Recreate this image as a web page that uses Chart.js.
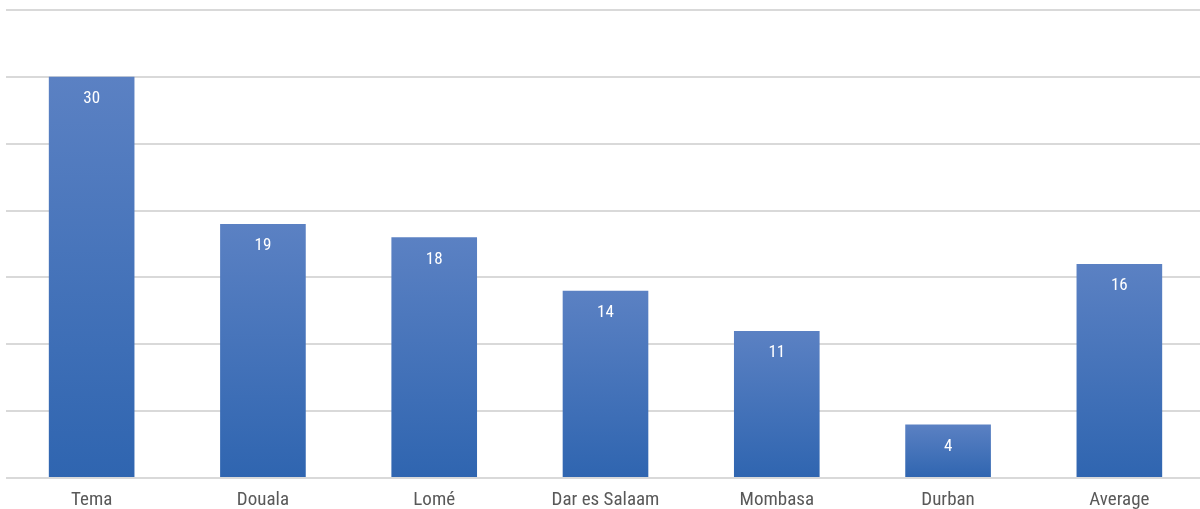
<!DOCTYPE html>
<html>
<head>
<meta charset="utf-8">
<script src="https://cdn.jsdelivr.net/npm/chart.js@4"></script>
<style>
  html, body { margin: 0; padding: 0; background: #fff; overflow: hidden; }
  #wrap { position: absolute; left: 0; top: 0; width: 1206px; height: 509px; }
</style>
</head>
<body>
<div id="wrap"><canvas id="c"></canvas></div>
<script>
const categories = ["Tema", "Douala", "Lomé", "Dar es Salaam", "Mombasa", "Durban", "Average"];
const values = [30, 19, 18, 14, 11, 4, 16];
const yMax = 35;
const yStep = 5;

const FONT = '"Liberation Sans Narrow", "Arial Narrow", "Roboto Condensed", "Liberation Sans", sans-serif';

function barGradient(ctx) {
  const chart = ctx.chart;
  const area = chart.chartArea;
  if (!area || ctx.dataIndex === undefined) return '#4a74bb';
  const y = chart.scales.y;
  const v = values[ctx.dataIndex];
  const top = y.getPixelForValue(v);
  const bottom = y.getPixelForValue(0);
  const g = chart.ctx.createLinearGradient(0, top, 0, bottom);
  g.addColorStop(0, '#5b81c3');
  g.addColorStop(1, '#2f65b0');
  return g;
}

const labelPlugin = {
  id: 'barLabels',
  afterDatasetsDraw(chart) {
    const ctx = chart.ctx;
    const meta = chart.getDatasetMeta(0);
    ctx.save();
    ctx.font = '17px ' + FONT;
    ctx.fillStyle = '#ffffff';
    ctx.textAlign = 'center';
    ctx.textBaseline = 'middle';
    meta.data.forEach((bar, i) => {
      ctx.fillText(String(values[i]), bar.x, bar.y + 22);
    });
    ctx.restore();
  }
};

new Chart(document.getElementById('c'), {
  type: 'bar',
  data: {
    labels: categories,
    datasets: [{
      data: values,
      backgroundColor: barGradient,
      borderWidth: 0,
      barPercentage: 0.5,
      categoryPercentage: 1.0
    }]
  },
  options: {
    responsive: true,
    maintainAspectRatio: false,
    animation: false,
    layout: { padding: { left: 6, right: 1, top: 10, bottom: 0 } },
    plugins: { legend: { display: false }, tooltip: { enabled: false } },
    scales: {
      x: {
        grid: { display: false },
        border: { display: false },
        ticks: { color: '#595959', font: { family: FONT, size: 19 }, padding: 3, maxRotation: 0 },
        afterFit(scale) { scale.height = 31; }
      },
      y: {
        min: 0,
        max: yMax,
        ticks: { display: false, stepSize: yStep },
        grid: { color: '#d9d9d9', lineWidth: 2, drawTicks: false },
        border: { display: false }
      }
    }
  },
  plugins: [labelPlugin]
});
</script>
</body>
</html>
